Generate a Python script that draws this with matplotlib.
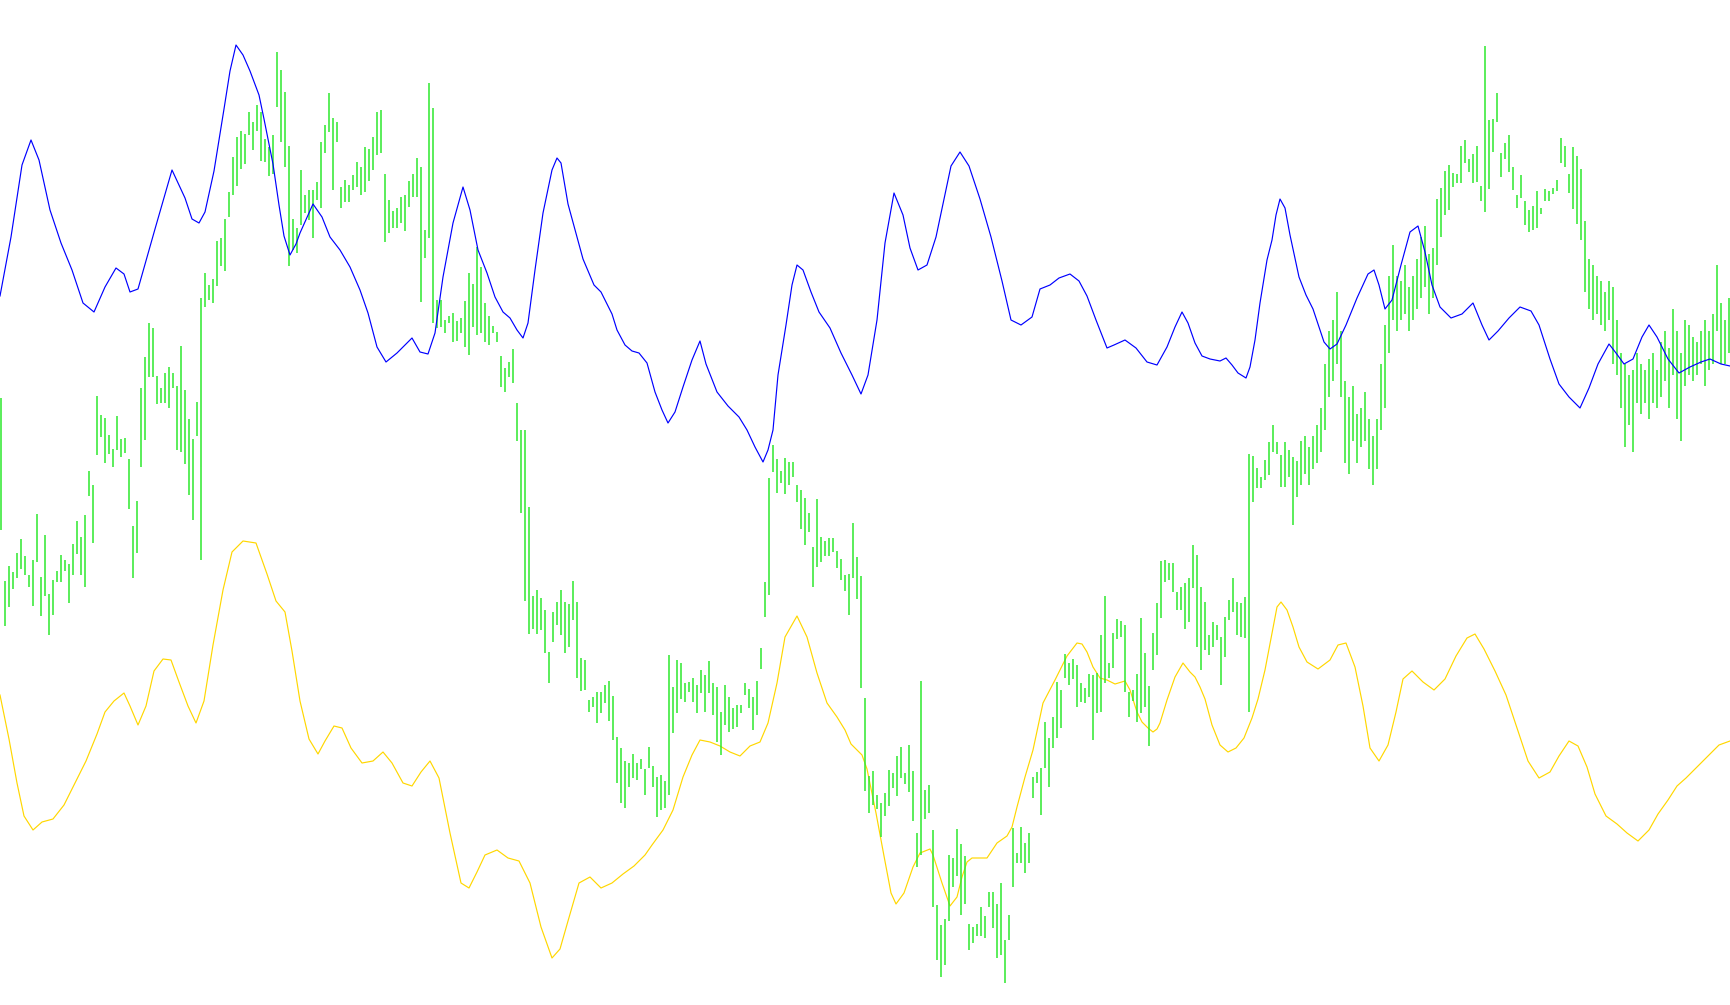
import numpy as np
import matplotlib
matplotlib.use("Agg")
import matplotlib.pyplot as plt

# bar readings (level values, larger = lower on chart), one bar every 4 units of x
bar_top = [
    398, 581, 566, 572, 553, 539, 556, 575, 560, 514, 577, 535, 594, 580, 571, 555, 560, 564, 544, 521,
    537, 515, 471, 485, 396, 415, 418, 435, 449, 416, 439, 438, 459, 526, 501, 388, 357, 323, 328, 376,
    388, 373, 367, 373, 386, 346, 390, 419, 439, 402, 298, 273, 285, 279, 241, 238, 219, 192, 157, 137,
    131, 134, 112, 122, 105, 112, 139, 147, 135, 52, 70, 92, 146, 219, 228,
    170, 195, 190, 190, 182, 142, 125, 93, 118, 122, 187, 180, 185, 175, 162, 167, 147, 149, 137, 112,
    110, 174, 200, 211, 208, 197, 195, 181, 174, 158, 167, 230, 83, 108, 300,
    300, 320, 316, 313, 321, 318, 301, 273, 284, 247, 267, 303, 316, 326, 332, 356, 368, 362, 349,
    403, 430, 430, 507, 596, 590,
    598, 610, 652, 612, 602, 590, 602, 604, 581, 602, 658, 660, 700, 697, 692, 692, 685, 681, 696, 737,
    748, 761, 763, 754, 763, 759, 769, 747, 766, 777, 775, 781, 655, 687, 660, 663, 683, 682, 678, 685,
    670, 675, 661, 683, 687, 712, 685, 697, 708, 705, 705, 683, 689, 697, 681, 648, 582, 478, 445, 459,
    471, 458, 462, 462, 485, 490, 498, 513, 547, 499, 537, 541, 538, 538, 551, 559, 575, 574,
    523, 557, 576, 698, 776, 771, 795, 803, 793, 770, 773, 756, 747, 773, 745, 771, 833, 681, 790, 785,
    830, 905, 925, 919, 855, 858, 829, 844, 856, 924, 927, 924, 907, 916, 892, 892, 904,
    883, 940, 915, 828, 853, 827, 843, 833, 777, 772, 768, 722, 738, 717, 682, 690, 654, 663, 659, 665,
    683, 688, 674, 675, 673,
    635, 596, 663, 633, 619, 621, 625, 692, 690, 674, 618, 653, 686, 633, 603,
    561, 560, 563, 563, 592, 587, 583, 578, 545, 555, 587, 602, 635, 622, 625, 637, 617, 600, 578, 602,
    603, 597, 454, 456, 468, 477, 460, 442, 425, 442, 455, 442, 450, 457, 461,
    441, 436, 447, 436, 425, 408, 364, 331, 320, 292, 331, 381, 397, 386, 414, 408, 392, 419, 436, 419,
    364, 325, 276, 245, 276, 281, 265, 287, 276, 259, 237, 226, 254, 248, 199, 188, 171, 165,
    173, 174, 146, 140, 159, 154, 146, 186, 46, 120, 119, 93, 153, 143, 135, 167, 195, 175, 201, 210,
    206, 191, 208, 189, 191, 188, 180, 138, 146, 174, 147, 156, 169,
    221, 259, 265, 276, 281, 292, 281, 287, 320, 353, 364, 375, 370, 353, 364, 370, 359, 353, 370, 342,
    331, 348, 309, 331, 353, 320, 325, 337, 342, 331, 320, 331, 314, 265, 303, 320, 298,
]
bar_bottom = [
    530, 626, 607, 589, 578, 569, 575, 587, 606, 562, 616, 596, 635, 615, 582, 582, 571, 603, 575, 554,
    575, 587, 496, 543, 455, 437, 463, 454, 467, 450, 457, 453, 509, 578, 553, 467, 440, 377, 377, 404,
    403, 403, 408, 388, 450, 452, 464, 495, 520, 436, 560, 307, 300, 303, 286, 266, 271, 217, 195, 186,
    169, 164, 135, 150, 131, 161, 162, 176, 174, 107, 142, 167, 266, 250, 253,
    225, 213, 220, 238, 200, 208, 153, 132, 190, 142, 208, 202, 202, 190, 187, 195, 192, 181, 170, 155,
    153, 242, 233, 228, 228, 223, 231, 207, 197, 197, 302, 258, 238, 323, 328,
    327, 333, 323, 342, 341, 333, 347, 355, 327, 335, 333, 342, 345, 333, 342, 387, 392, 377, 383,
    441, 513, 601, 634, 629, 634,
    630, 653, 683, 642, 625, 635, 653, 647, 620, 678, 691, 690, 712, 707, 723, 713, 703, 721, 740, 783,
    803, 808, 787, 778, 780, 769, 795, 768, 787, 817, 810, 808, 795, 733, 713, 699, 702, 692, 702, 713,
    693, 712, 693, 715, 742, 755, 725, 732, 729, 727, 713, 695, 708, 730, 715, 669, 617, 595, 472, 493,
    483, 494, 485, 477, 502, 529, 545, 532, 587, 567, 562, 556, 556, 552, 568, 580, 591, 615,
    578, 599, 688, 791, 813, 805, 809, 837, 816, 806, 788, 796, 778, 784, 792, 821, 867, 855, 819, 813,
    907, 960, 977, 965, 921, 887, 876, 915, 904, 950, 943, 936, 936, 938, 907, 928, 958,
    955, 983, 940, 887, 863, 863, 873, 863, 798, 783, 815, 768, 787, 748, 738, 728, 678, 685, 679, 707,
    702, 703, 697, 740, 713,
    712, 683, 678, 668, 639, 637, 692, 717, 701, 722, 713, 707, 746, 670, 655,
    618, 582, 580, 592, 610, 610, 629, 622, 588, 647, 670, 650, 655, 647, 640, 685, 657, 620, 612, 635,
    637, 638, 712, 502, 488, 488, 480, 475, 452, 454, 487, 487, 477, 525, 497,
    485, 474, 485, 469, 463, 452, 430, 397, 381, 364, 397, 463, 474, 441, 463, 447, 441, 469, 485, 469,
    430, 408, 353, 320, 331, 320, 314, 331, 320, 309, 298, 287, 314, 298, 265, 237, 215, 210,
    187, 183, 183, 163, 172, 183, 182, 201, 212, 189, 152, 122, 177, 159, 172, 190, 208, 198, 225, 232,
    230, 228, 214, 201, 201, 194, 191, 163, 167, 193, 209, 224, 240,
    292, 309, 320, 314, 325, 331, 320, 364, 375, 408, 447, 425, 452, 403, 414, 403, 419, 403, 408, 397,
    381, 408, 375, 419, 441, 386, 375, 381, 375, 364, 386, 370, 364, 331, 364, 364, 353,
]

# blue line
blue_x = [0, 11, 22, 31, 39, 50, 61, 72, 83, 94, 105, 116, 124, 130, 138,
          155, 172, 185, 192, 199, 205, 214, 224, 230, 236, 243, 250, 259, 264, 273,
          279, 284, 290, 296, 300, 313, 322, 330, 340, 350, 360, 368, 377, 386, 397,
          412, 420, 428, 435, 443, 453, 463, 470, 478, 487, 495, 503, 510, 517, 523,
          528, 535, 543, 552, 557, 561, 568, 583, 594, 601, 612, 617, 625, 632, 639,
          647, 655, 662, 668, 675, 683, 692, 700, 706, 717, 728, 739, 747, 755, 763,
          768, 773, 778, 786, 792, 797, 803, 811, 819, 830, 841, 852, 861, 868, 877,
          885, 894, 903, 910, 918, 927, 936, 943, 951, 960, 969, 980, 991, 1002, 1011,
          1021, 1032, 1040, 1050, 1059, 1070, 1079, 1087, 1096, 1107, 1114, 1125, 1136, 1147, 1157,
          1167, 1175, 1182, 1188, 1195, 1202, 1210, 1220, 1226, 1232, 1238, 1246, 1250, 1255, 1260,
          1267, 1272, 1276, 1280, 1285, 1290, 1299, 1306, 1313, 1324, 1330, 1337, 1346, 1357, 1368,
          1374, 1379, 1385, 1392, 1401, 1410, 1418, 1425, 1432, 1440, 1451, 1462, 1473, 1482, 1489,
          1498, 1509, 1520, 1531, 1539, 1550, 1559, 1569, 1580, 1589, 1598, 1609, 1616, 1624, 1633,
          1642, 1649, 1657, 1668, 1679, 1690, 1701, 1710, 1721, 1730]
blue_y = [296, 237, 165, 140, 160, 210, 243, 270, 303, 312, 287, 268, 274, 292, 289,
          229, 170, 198, 219, 223, 212, 171, 109, 71, 45, 55, 71, 95, 119, 164,
          205, 236, 255, 244, 233, 204, 217, 237, 250, 267, 290, 313, 347, 362, 353,
          338, 352, 354, 333, 277, 223, 187, 210, 250, 273, 297, 312, 318, 330, 338,
          323, 270, 213, 170, 158, 163, 204, 259, 285, 292, 314, 330, 345, 351, 353,
          363, 392, 410, 423, 412, 387, 360, 341, 364, 392, 406, 417, 430, 447, 462,
          450, 430, 375, 325, 285, 265, 270, 292, 312, 328, 353, 375, 394, 375, 320,
          243, 193, 215, 248, 270, 265, 237, 204, 166, 152, 166, 199, 237, 281, 320,
          325, 317, 289, 285, 278, 274, 281, 296, 320, 348, 345, 340, 348, 362, 365,
          347, 327, 312, 323, 343, 356, 359, 361, 358, 365, 373, 378, 367, 340, 303,
          260, 240, 215, 199, 208, 235, 277, 295, 309, 342, 349, 344, 325, 298, 274,
          270, 285, 309, 300, 265, 232, 226, 252, 285, 307, 318, 314, 303, 325, 340,
          331, 318, 307, 311, 325, 359, 384, 397, 408, 388, 364, 344, 353, 364, 359,
          337, 325, 337, 359, 373, 367, 362, 359, 364, 366]

# yellow line
yellow_x = [0, 9, 17, 24, 33, 42, 53, 64, 75, 86, 97, 105, 114, 124, 130,
            138, 146, 154, 163, 171, 179, 188, 196, 204, 213, 223, 232, 243, 256, 267,
            276, 285, 292, 300, 309, 318, 325, 334, 342, 351, 362, 373, 383, 392, 403,
            412, 421, 430, 439, 450, 461, 469, 477, 485, 497, 508, 519, 530, 541, 552,
            560, 568, 579, 590, 601, 612, 623, 634, 645, 652, 663, 673, 683, 692, 700,
            710, 720, 730, 740, 750, 760, 768, 777, 785, 797, 807, 817, 827, 837, 845,
            851, 862, 867, 876, 884, 891, 896, 904, 913, 920, 930, 933, 942, 950, 957,
            962, 967, 972, 987, 997, 1007, 1012, 1017, 1025, 1033, 1043, 1055, 1067, 1077, 1082,
            1087, 1093, 1100, 1107, 1115, 1125, 1130, 1137, 1142, 1148, 1153, 1157, 1160, 1167, 1175,
            1183, 1190, 1195, 1200, 1205, 1212, 1220, 1228, 1236, 1244, 1252, 1258, 1265, 1272, 1277,
            1281, 1287, 1293, 1299, 1307, 1318, 1330, 1338, 1346, 1355, 1363, 1370, 1379, 1388, 1396,
            1403, 1412, 1423, 1434, 1445, 1456, 1467, 1475, 1484, 1495, 1506, 1517, 1528, 1539, 1550,
            1559, 1569, 1578, 1587, 1595, 1606, 1617, 1627, 1638, 1649, 1658, 1668, 1677, 1686, 1697,
            1708, 1719, 1730]
yellow_y = [695, 739, 783, 816, 830, 822, 819, 805, 783, 761, 734, 712, 701, 693, 706,
            725, 706, 671, 659, 660, 682, 706, 723, 701, 645, 590, 552, 541, 543, 574,
            601, 612, 651, 701, 739, 754, 741, 726, 728, 748, 763, 761, 752, 763, 783,
            786, 772, 761, 778, 833, 883, 888, 872, 855, 850, 858, 861, 883, 927, 958,
            949, 921, 883, 877, 888, 883, 874, 866, 855, 845, 830, 810, 777, 755, 740,
            742, 746, 752, 756, 746, 742, 723, 683, 637, 616, 637, 673, 703, 717, 730,
            744, 755, 769, 813, 856, 893, 904, 893, 867, 853, 849, 855, 883, 906, 897,
            877, 862, 858, 858, 843, 836, 827, 807, 777, 750, 703, 680, 656, 643, 644,
            652, 667, 678, 680, 684, 681, 690, 712, 722, 728, 732, 729, 723, 700, 677,
            663, 672, 677, 687, 699, 725, 745, 752, 748, 738, 718, 699, 670, 633, 607,
            602, 610, 627, 647, 662, 669, 660, 645, 643, 667, 706, 748, 761, 745, 712,
            679, 671, 682, 690, 679, 656, 638, 634, 649, 671, 695, 728, 761, 778, 772,
            756, 741, 746, 767, 794, 816, 824, 833, 841, 830, 814, 800, 786, 778, 767,
            756, 745, 741]

fig = plt.figure(figsize=(17.3, 10.05), dpi=100)
ax = fig.add_axes([0, 0, 1, 1])

bar_x = 1.33 + 4 * np.arange(len(bar_top))

ax.plot(yellow_x, yellow_y, color="#ffd700", lw=0.85, solid_joinstyle="round")
ax.vlines(bar_x, bar_top, bar_bottom, color="#2ee82e", lw=1.1)
ax.plot(blue_x, blue_y, color="#0000ff", lw=0.85, solid_joinstyle="round")

ax.set_xlim(0, 1730)
ax.set_ylim(1005, 0)
ax.axis("off")

fig.savefig("out.png", dpi=100)
